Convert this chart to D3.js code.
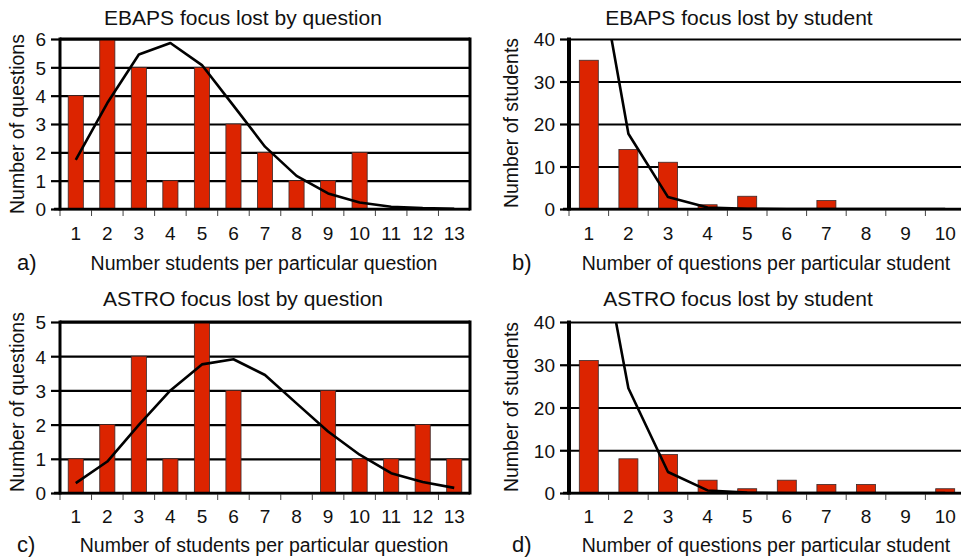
<!DOCTYPE html>
<html>
<head>
<meta charset="utf-8">
<script src="https://cdn.jsdelivr.net/npm/d3@7"></script>
<style>
  body { margin: 0; background: #fff; }
  svg { display: block; font-family: "Liberation Sans", Arial, sans-serif; }
</style>
</head>
<body>
<div id="chart"></div>
<script>
// categories
var catsQuestion = ["1","2","3","4","5","6","7","8","9","10","11","12","13"];
var catsStudent = ["1","2","3","4","5","6","7","8","9","10"];

// a) EBAPS by question
var ebapsQBars = [4, 6, 5, 1, 5, 3, 2, 1, 1, 2, 0, 0, 0];
var ebapsQFit  = [1.73, 3.74, 5.45, 5.86, 5.08, 3.65, 2.2, 1.17, 0.55, 0.23, 0.08, 0.03, 0.01];
// b) EBAPS by student
var ebapsSBars = [35, 14, 11, 1, 3, 0, 2, 0, 0, 0];
var ebapsSFit  = [70, 17.7, 2.8, 0.35, 0.04, 0, 0, 0, 0, 0];
// c) ASTRO by question
var astroQBars = [1, 2, 4, 1, 5, 3, 0, 0, 3, 1, 1, 2, 1];
var astroQFit  = [0.29, 0.92, 1.99, 3.0, 3.76, 3.91, 3.45, 2.62, 1.8, 1.12, 0.58, 0.32, 0.15];
// d) ASTRO by student
var astroSBars = [31, 8, 9, 3, 1, 3, 2, 2, 0, 1];
var astroSFit  = [74, 24.5, 4.9, 0.6, 0.1, 0, 0, 0, 0, 0];

var yTicksQA = [0,1,2,3,4,5,6];
var yTicksQC = [0,1,2,3,4,5];
var yTicksS  = [0,10,20,30,40];

var width = 961, height = 559;

var svg = d3.select("#chart").append("svg")
            .attr("width", width)
            .attr("height", height);

var defs = svg.append("defs");

function panel(cfg) {
    var x = d3.scaleBand().domain(cfg.cats).range([cfg.x0, cfg.x1]);
    var y = d3.scaleLinear().domain([0, cfg.ymax]).range([cfg.yBot, cfg.yTop]);
    var g = svg.append("g");

    // gridlines
    g.append("g")
     .attr("transform", `translate(${cfg.x0},0)`)
     .call(d3.axisLeft(y).tickValues(cfg.yTicks).tickSize(-(cfg.x1 - cfg.x0)).tickFormat(""))
     .call(s => s.select(".domain").remove())
     .selectAll("line")
     .attr("stroke", "#000")
     .attr("stroke-width", 2.2);

    // bars
    g.selectAll("rect.bar")
     .data(cfg.bars)
     .enter().append("rect")
     .attr("class", "bar")
     .attr("x", (d, i) => x(cfg.cats[i]) + x.bandwidth() * 0.26)
     .attr("width", x.bandwidth() * 0.48)
     .attr("y", d => y(d))
     .attr("height", d => y(0) - y(d))
     .attr("fill", "#dc2400")
     .attr("stroke", "#3a2a2a")
     .attr("stroke-width", d => d > 0 ? 0.8 : 0);

    // x tick marks at band boundaries
    var bounds = cfg.cats.map(c => x(c));
    g.selectAll("line.xt")
     .data(bounds)
     .enter().append("line")
     .attr("class", "xt")
     .attr("x1", d => d).attr("x2", d => d)
     .attr("y1", y(0)).attr("y2", y(0) + 7)
     .attr("stroke", "#444")
     .attr("stroke-width", 1);

    // x labels
    g.append("g")
     .attr("transform", `translate(0,${cfg.xLabY})`)
     .call(d3.axisBottom(x).tickSize(0).tickPadding(0))
     .call(s => s.select(".domain").remove())
     .selectAll("text")
     .attr("dy", 0)
     .attr("font-size", 19)
     .attr("fill", "#111");

    // y axis labels + tick marks
    var ya = g.append("g")
     .attr("transform", `translate(${cfg.x0},0)`)
     .call(d3.axisLeft(y).tickValues(cfg.yTicks).tickFormat(d3.format("d")).tickSize(9).tickPadding(5));
    ya.select(".domain").remove();
    ya.selectAll("line").attr("stroke", "#000").attr("stroke-width", 2.2);
    ya.selectAll("text").attr("font-size", 19).attr("fill", "#111").attr("dy", "0.36em");

    // frame
    g.append("line")
     .attr("x1", cfg.x0 - 6).attr("x2", cfg.x1)
     .attr("y1", y(0)).attr("y2", y(0))
     .attr("stroke", "#000").attr("stroke-width", 2.5);
    g.append("line")
     .attr("x1", cfg.x0).attr("x2", cfg.x0)
     .attr("y1", y(cfg.ymax) - 1.5).attr("y2", y(0) + 1.5)
     .attr("stroke", "#000").attr("stroke-width", cfg.axisW);
    if (cfg.box) {
        g.append("line")
         .attr("x1", cfg.x1).attr("x2", cfg.x1)
         .attr("y1", y(cfg.ymax) - 1.5).attr("y2", y(0) + 1.5)
         .attr("stroke", "#000").attr("stroke-width", 3);
        g.append("line")
         .attr("x1", cfg.x0).attr("x2", cfg.x1)
         .attr("y1", y(cfg.ymax)).attr("y2", y(cfg.ymax))
         .attr("stroke", "#000").attr("stroke-width", 3);
    }

    // fitted curve, clipped to the plot
    defs.append("clipPath").attr("id", "clip" + cfg.id)
        .append("rect")
        .attr("x", cfg.x0).attr("y", cfg.yTop)
        .attr("width", cfg.x1 - cfg.x0).attr("height", cfg.yBot - cfg.yTop);

    var line = d3.line()
                 .x((d, i) => x(cfg.cats[i]) + x.bandwidth() / 2)
                 .y(d => y(d));
    g.append("path")
     .datum(cfg.fit)
     .attr("clip-path", `url(#clip${cfg.id})`)
     .attr("d", line)
     .attr("fill", "none")
     .attr("stroke", "#000")
     .attr("stroke-width", 2.6)
     .attr("stroke-linejoin", "round");

    // texts
    g.append("text")
     .attr("x", cfg.titleX).attr("y", cfg.titleY)
     .attr("text-anchor", "middle")
     .attr("font-size", 21)
     .attr("fill", "#111")
     .text(cfg.title);

    g.append("text")
     .attr("x", cfg.xTitleX).attr("y", cfg.xTitleY)
     .attr("text-anchor", "middle")
     .attr("font-size", 19.5)
     .attr("fill", "#111")
     .text(cfg.xTitle);

    g.append("text")
     .attr("transform", `translate(${cfg.yTitleX},${cfg.yTitleY}) rotate(-90)`)
     .attr("text-anchor", "middle")
     .attr("font-size", 19.5)
     .attr("fill", "#111")
     .text(cfg.yTitle);

    g.append("text")
     .attr("x", cfg.tagX).attr("y", cfg.xTitleY)
     .attr("font-size", 22)
     .attr("fill", "#111")
     .text(cfg.tag);
}

panel({
    id: "a", cats: catsQuestion, bars: ebapsQBars, fit: ebapsQFit,
    x0: 60, x1: 470, yTop: 39, yBot: 209, ymax: 6, yTicks: yTicksQA,
    box: true, axisW: 3, xLabY: 240,
    title: "EBAPS focus lost by question", titleX: 243, titleY: 25,
    xTitle: "Number students per particular question", xTitleX: 264, xTitleY: 270,
    yTitle: "Number of questions", yTitleX: 24, yTitleY: 124,
    tag: "a)", tagX: 17
});

panel({
    id: "b", cats: catsStudent, bars: ebapsSBars, fit: ebapsSFit,
    x0: 569, x1: 965, yTop: 39, yBot: 209, ymax: 40, yTicks: yTicksS,
    box: false, axisW: 4, xLabY: 240,
    title: "EBAPS focus lost by student", titleX: 739, titleY: 25,
    xTitle: "Number of questions per particular student", xTitleX: 766, xTitleY: 270,
    yTitle: "Number of students", yTitleX: 518, yTitleY: 123,
    tag: "b)", tagX: 512
});

panel({
    id: "c", cats: catsQuestion, bars: astroQBars, fit: astroQFit,
    x0: 60, x1: 470, yTop: 322, yBot: 493, ymax: 5, yTicks: yTicksQC,
    box: true, axisW: 3, xLabY: 523,
    title: "ASTRO focus lost by question", titleX: 243, titleY: 306,
    xTitle: "Number of students per particular question", xTitleX: 264, xTitleY: 552,
    yTitle: "Number of questions", yTitleX: 24, yTitleY: 402,
    tag: "c)", tagX: 17
});

panel({
    id: "d", cats: catsStudent, bars: astroSBars, fit: astroSFit,
    x0: 569, x1: 965, yTop: 322, yBot: 493, ymax: 40, yTicks: yTicksS,
    box: false, axisW: 4, xLabY: 523,
    title: "ASTRO focus lost by student", titleX: 738, titleY: 306,
    xTitle: "Number of questions per particular student", xTitleX: 766, xTitleY: 552,
    yTitle: "Number of students", yTitleX: 518, yTitleY: 407,
    tag: "d)", tagX: 512
});
</script>
</body>
</html>
